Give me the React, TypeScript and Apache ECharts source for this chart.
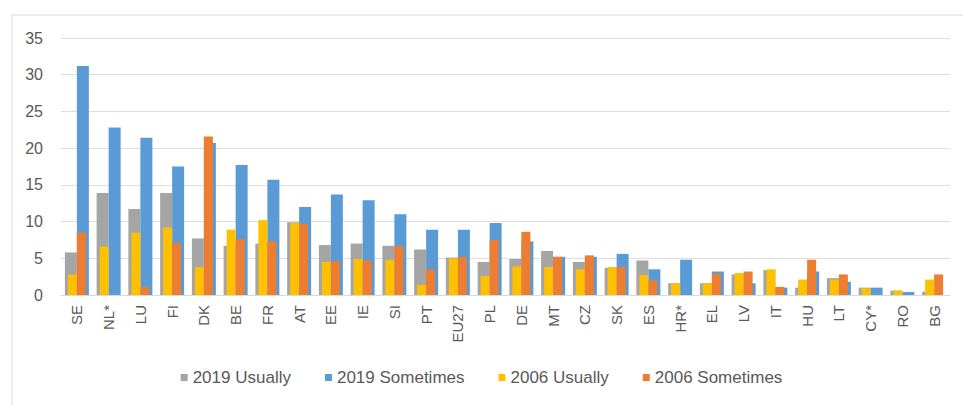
import React, { useEffect, useRef } from "react";
import * as echarts from "echarts";

const categories = ["SE", "NL*", "LU", "FI", "DK", "BE", "FR", "AT", "EE", "IE", "SI", "PT", "EU27", "PL", "DE", "MT", "CZ", "SK", "ES", "HR*", "EL", "LV", "IT", "HU", "LT", "CY*", "RO", "BG"];
const usually2019 = [5.8, 13.9, 11.7, 13.9, 7.7, 6.7, 7.0, 9.9, 6.8, 7.0, 6.7, 6.2, 5.1, 4.5, 4.9, 6.0, 4.5, 3.7, 4.7, 1.6, 1.6, 2.8, 3.4, 1.0, 2.3, 1.0, 0.6, 0.45];
const sometimes2019 = [31.2, 22.8, 21.4, 17.5, 20.7, 17.7, 15.7, 12.0, 13.7, 12.9, 11.0, 8.9, 8.9, 9.8, 7.3, 5.2, 5.2, 5.6, 3.5, 4.8, 3.2, 1.6, 1.0, 3.2, 1.8, 1.0, 0.4, null];
const usually2006 = [2.8, 6.6, 8.5, 9.2, 3.8, 8.9, 10.2, 9.8, 4.5, 4.9, 4.8, 1.4, 5.0, 2.6, 3.9, 3.8, 3.5, 3.8, 2.7, 1.6, 1.6, 3.0, 3.5, 2.1, 2.1, 0.9, 0.6, 2.1];
const sometimes2006 = [8.5, null, 1.1, 7.1, 21.6, 7.6, 7.3, 9.7, 4.6, 4.7, 6.7, 3.5, 5.2, 7.5, 8.6, 5.2, 5.4, 3.8, 2.0, null, 2.9, 3.2, 1.1, 4.8, 2.8, null, null, 2.8];
const yTicks = [0, 35, 5];
const seriesNames = ["2019 Usually", "2019 Sometimes", "2006 Usually", "2006 Sometimes"];

const FONT = "Liberation Sans";
const TEXT = "#595959";

export default function App() {
  const ref = useRef<HTMLDivElement>(null);
  useEffect(() => {
    if (!ref.current) return;
    const chart = echarts.init(ref.current, null, { renderer: "svg" });
    chart.setOption({
      animation: false,
      backgroundColor: "#ffffff",
      textStyle: { fontFamily: FONT },
      color: ["#A5A5A5", "#5B9BD5", "#FFC000", "#ED7D31"],
      graphic: [
        {
          type: "rect",
          shape: { x: 12, y: 15, width: 1000, height: 500 },
          style: { fill: "none", stroke: "#D9D9D9", lineWidth: 1 },
          silent: true,
          z: -10,
        },
      ],
      grid: { left: 61, right: 13, top: 38, bottom: 110 },
      legend: {
        data: seriesNames,
        bottom: 14,
        left: "center",
        itemWidth: 7,
        itemHeight: 7,
        itemGap: 34,
        icon: "rect",
        textStyle: { color: TEXT, fontSize: 17, fontFamily: FONT },
      },
      xAxis: [
        {
          type: "category",
          data: categories,
          axisLine: { lineStyle: { color: "#D9D9D9" } },
          axisTick: { show: false },
          axisLabel: { rotate: 90, color: TEXT, fontSize: 15, margin: 10, interval: 0, fontFamily: FONT },
        },
        {
          type: "category",
          data: categories,
          show: false,
        },
      ],
      yAxis: {
        type: "value",
        min: yTicks[0],
        max: yTicks[1],
        interval: yTicks[2],
        axisLine: { show: false },
        axisTick: { show: false },
        axisLabel: { color: TEXT, fontSize: 16, margin: 18, fontFamily: FONT },
        splitLine: { lineStyle: { color: "#DEDEDE" } },
      },
      series: [
        { name: seriesNames[0], type: "bar", xAxisIndex: 0, data: usually2019, barWidth: 12, barGap: "0%" },
        { name: seriesNames[1], type: "bar", xAxisIndex: 0, data: sometimes2019, barWidth: 12, barGap: "0%" },
        { name: seriesNames[2], type: "bar", xAxisIndex: 1, data: usually2006, barWidth: 9, barGap: "0%" },
        { name: seriesNames[3], type: "bar", xAxisIndex: 1, data: sometimes2006, barWidth: 9, barGap: "0%" },
      ],
    });
    return () => chart.dispose();
  }, []);
  return (
    <div
      ref={ref}
      style={{ position: "fixed", left: 0, top: 0, width: 963, height: 405 }}
    />
  );
}
